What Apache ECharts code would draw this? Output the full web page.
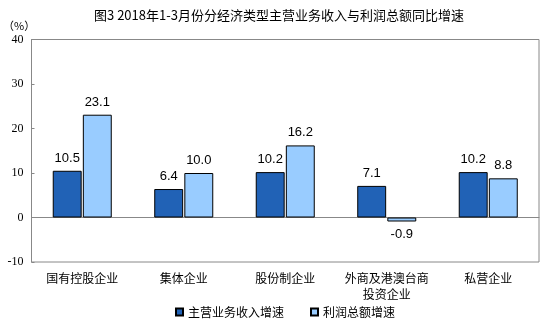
<!DOCTYPE html>
<html>
<head>
<meta charset="utf-8">
<script src="https://cdn.jsdelivr.net/npm/echarts@6/dist/echarts.min.js"></script>
<style>html,body{margin:0;padding:0;background:#fff;}#c{width:545px;height:326px;}</style>
</head>
<body>
<div id="c"></div>
<script>
var categories = ['国有控股企业', '集体企业', '股份制企业', '外商及港澳台商\n投资企业', '私营企业'];
var revenueGrowth = [10.5, 6.4, 10.2, 7.1, 10.2];
var profitGrowth = [23.1, 10.0, 16.2, -0.9, 8.8];
var seriesNames = ['主营业务收入增速', '利润总额增速'];
var titleText = '图3 2018年1-3月份分经济类型主营业务收入与利润总额同比增速';

var cjk = '"Noto Sans CJK SC", "Liberation Sans", sans-serif';
var latin = '"Liberation Sans", Arial, sans-serif';
var serif = '"Liberation Serif", "Times New Roman", serif';

var chart = echarts.init(document.getElementById('c'), null, {renderer: 'canvas'});
function lbl(v) { return v.value.toFixed(1); }
chart.setOption({
  animation: false,
  backgroundColor: '#fff',
  title: {
    text: titleText,
    left: 89,
    top: 4,
    textStyle: {fontFamily: cjk, fontSize: 13, fontWeight: 'normal', color: '#000'}
  },
  graphic: [{
    type: 'text', left: 3, top: 20,
    style: {text: '（%）', fontFamily: cjk, fontSize: 11, fill: '#000'}
  }],
  legend: {
    bottom: 3,
    left: 170,
    icon: 'rect',
    itemWidth: 7,
    itemHeight: 7,
    itemGap: 26,
    textStyle: {fontFamily: cjk, fontSize: 12, color: '#000'},
    data: seriesNames
  },
  grid: {
    left: 31.5, right: 6, top: 39.5, bottom: 64,
    show: true, borderColor: '#888', borderWidth: 1, containLabel: false
  },
  xAxis: {
    type: 'category',
    data: categories,
    axisLine: {onZero: true, lineStyle: {color: '#888', width: 1}},
    axisTick: {show: false},
    axisLabel: {fontFamily: cjk, fontSize: 12, color: '#000', margin: 8, lineHeight: 16, interval: 0}
  },
  yAxis: {
    type: 'value',
    min: -10, max: 40, interval: 10,
    axisLine: {show: true, lineStyle: {color: '#888'}},
    axisTick: {show: true, inside: true, length: 3, lineStyle: {color: '#888'}},
    splitLine: {show: false},
    axisLabel: {fontFamily: serif, fontSize: 12, color: '#000', margin: 8}
  },
  series: [{
    name: seriesNames[0],
    type: 'bar',
    data: revenueGrowth,
    barWidth: '28.5%',
    barGap: '4%',
    itemStyle: {color: '#2162B6', borderColor: '#000', borderWidth: 1},
    label: {show: true, position: 'top', distance: 6, formatter: lbl,
            fontFamily: latin, fontSize: 13, color: '#000'}
  }, {
    name: seriesNames[1],
    type: 'bar',
    data: profitGrowth.map(function (v) {
      return v < 0 ? {value: v, label: {position: 'bottom'}} : v;
    }),
    barWidth: '28.5%',
    itemStyle: {color: '#99CCFF', borderColor: '#000', borderWidth: 1},
    label: {show: true, position: 'top', distance: 6, formatter: lbl,
            fontFamily: latin, fontSize: 13, color: '#000'}
  }]
});
</script>
</body>
</html>
